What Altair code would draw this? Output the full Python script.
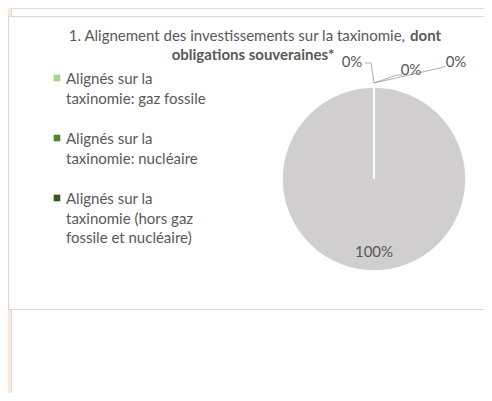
import altair as alt
import pandas as pd

# ---- data ----
categories = [
    "Alignés sur la taxinomie: gaz fossile",
    "Alignés sur la taxinomie: nucléaire",
    "Alignés sur la taxinomie (hors gaz fossile et nucléaire)",
    "Non alignés sur la taxinomie",
]
legend_labels = [
    "Alignés sur la\ntaxinomie: gaz fossile",
    "Alignés sur la\ntaxinomie: nucléaire",
    "Alignés sur la\ntaxinomie (hors gaz\nfossile et nucléaire)",
]
values = [0, 0, 0, 100]
title_regular = "1. Alignement des investissements sur la taxinomie, "
title_bold_1 = "dont"
title_bold_2 = "obligations souveraines*"

# ---- style ----
colors = ["#a9d18e", "#548235", "#375623", "#d0cece"]
FONT = "Lato"
TXT = "#595959"
W, H = 476, 385
CX, CY, R = 366, 171, 92
label_x = [344, 403, 448, CX]
label_y = [54, 62, 54, 244]

df = pd.DataFrame({
    "cat": categories,
    "value": values,
    "idx": list(range(len(categories))),
    "color": colors,
    "lx": label_x,
    "ly": label_y,
})
leg = pd.DataFrame({
    "label": legend_labels,
    "idx": list(range(len(legend_labels))),
    "color": colors[:3],
})
one = pd.DataFrame({"a": [0]})

X = lambda f: alt.X(f, type="quantitative", scale=None, axis=None)
Y = lambda f: alt.Y(f, type="quantitative", scale=None, axis=None)

beige_top = alt.Chart(one).mark_rect(color="#fbe9d7").encode(
    x=alt.value(0), x2=alt.value(3), y=alt.value(0), y2=alt.value(8))
beige_bot = alt.Chart(one).mark_rect(color="#fbe9d7").encode(
    x=alt.value(0), x2=alt.value(3), y=alt.value(301), y2=alt.value(H))
beige_line1 = alt.Chart(one).mark_rule(color="#e2d9cf", strokeWidth=1).encode(
    x=alt.value(3.5), y=alt.value(0), y2=alt.value(8))
beige_line2 = alt.Chart(one).mark_rule(color="#e2d9cf", strokeWidth=1).encode(
    x=alt.value(3.5), y=alt.value(302), y2=alt.value(H))
box = alt.Chart(one).mark_rect(color="white").encode(
    x=alt.value(0), x2=alt.value(W), y=alt.value(8), y2=alt.value(301))
box_top = alt.Chart(one).mark_rule(color="#d9d9d9", strokeWidth=1.2).encode(
    x=alt.value(0), x2=alt.value(W), y=alt.value(8.5))
box_bot = alt.Chart(one).mark_rule(color="#d9d9d9", strokeWidth=1.2).encode(
    x=alt.value(0), x2=alt.value(W), y=alt.value(301.5))
box_left = alt.Chart(one).mark_rule(color="#d9d9d9", strokeWidth=1.2).encode(
    x=alt.value(0.5), y=alt.value(8), y2=alt.value(302))

t1 = alt.Chart(one).mark_text(font=FONT, fontSize=15, color=TXT, align="right",
                              baseline="alphabetic", text=title_regular.rstrip()).encode(
    x=alt.value(397), y=alt.value(33))
t2 = alt.Chart(one).mark_text(font=FONT, fontSize=15, color=TXT, align="left", fontWeight="bold",
                              baseline="alphabetic", text=title_bold_1).encode(
    x=alt.value(402), y=alt.value(33))
t3 = alt.Chart(one).mark_text(font=FONT, fontSize=15, color=TXT, align="center", fontWeight="bold",
                              baseline="alphabetic", text=title_bold_2).encode(
    x=alt.value(245), y=alt.value(52))

leg_sq = alt.Chart(leg).transform_calculate(
    ly="70 + 60*datum.idx").mark_square(size=44, opacity=1).encode(
    x=alt.value(49), y=Y("ly"), color=alt.Color("color:N", scale=None, legend=None))
leg_txt = alt.Chart(leg).transform_calculate(
    ly="76 + 60*datum.idx").mark_text(font=FONT, fontSize=15, color=TXT, align="left",
                                       baseline="alphabetic", lineBreak="\n", lineHeight=19.5).encode(
    x=alt.value(58), y=Y("ly"), text="label:N")

pie_fill = alt.Chart(df).mark_arc(radius=R).encode(
    theta=alt.Theta("value:Q", stack=True),
    order=alt.Order("idx:Q"),
    color=alt.Color("color:N", scale=None, legend=None),
    x=alt.value(CX), y=alt.value(CY))
pie_stroke = alt.Chart(df).mark_arc(radius=R, fillOpacity=0, stroke="white", strokeWidth=1.6).encode(
    theta=alt.Theta("value:Q", stack=True),
    order=alt.Order("idx:Q"),
    x=alt.value(CX), y=alt.value(CY))

lead = pd.DataFrame({
    "g": [0, 0, 0, 1, 1, 1, 2, 2, 2],
    "o": [0, 1, 2] * 3,
    "x": [357, 363, CX, CX, 389, 394, CX, 432, 438],
    "y": [55, 55, CY - R - 4, CY - R - 4, 67, 67, CY - R - 4, 60, 58],
})
leaders = alt.Chart(lead).mark_line(color="#a6a6a6", strokeWidth=0.9).encode(
    x=X("x"), y=Y("y"), detail="g:N", order="o:Q")

labels = alt.Chart(df).transform_joinaggregate(total="sum(value)").transform_calculate(
    pct="format(datum.value / datum.total, '.0%')").mark_text(
    font=FONT, fontSize=15, color=TXT, align="center", baseline="middle").encode(
    x=X("lx"), y=Y("ly"), text="pct:N")

chart = alt.layer(
    beige_top, beige_bot, beige_line1, beige_line2, box, box_top, box_bot, box_left,
    t1, t2, t3, leg_sq, leg_txt, pie_fill, pie_stroke, leaders, labels
).properties(
    width=W, height=H, padding=0,
    autosize=alt.AutoSizeParams(type="none"),
).configure_view(stroke=None).configure(background="white")

chart.save("out.html", embed_options={"renderer": "svg", "actions": False})
